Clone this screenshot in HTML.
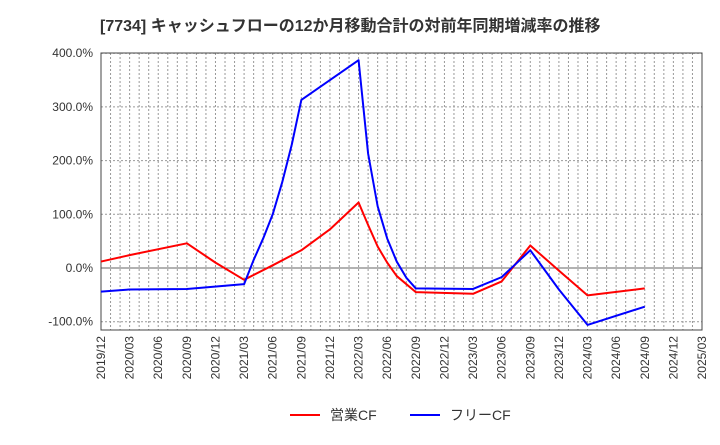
<!DOCTYPE html>
<html><head><meta charset="utf-8"><style>
body{margin:0;background:#fff;}
svg text{font-family:"Liberation Sans","Noto Sans CJK JP",sans-serif;}
</style></head><body>
<svg id="chart" width="720" height="440" xmlns="http://www.w3.org/2000/svg">
<text x="100" y="31" font-size="16" font-weight="bold" fill="#333">[7734]  キャッシュフローの12か月移動合計の対前年同期増減率の推移</text>
<g id="grid"></g><g id="axes"></g><g id="series"></g>
<g>
<line x1="290" y1="415" x2="320" y2="415" stroke="#f00" stroke-width="2"/>
<text x="330" y="420" font-size="14" fill="#333">営業CF</text>
<line x1="410" y1="415" x2="440" y2="415" stroke="#00f" stroke-width="2"/>
<text x="450" y="420" font-size="14" fill="#333">フリーCF</text>
</g>
</svg>
<script>
const xTickLabels=["2019/12","2020/03","2020/06","2020/09","2020/12","2021/03","2021/06","2021/09","2021/12","2022/03","2022/06","2022/09","2022/12","2023/03","2023/06","2023/09","2023/12","2024/03","2024/06","2024/09","2024/12","2025/03"];
const yTicks=[-100,0,100,200,300,400];
const yTickLabels=["-100.0%","0.0%","100.0%","200.0%","300.0%","400.0%"];
const opMonths=[0,3,9,12,15,18,21,24,27,28,29,30,31,33,39,42,45,48,51,57];
const opValues=[12,24,46,10,-22,5,33,72,122,80,40,10,-15,-45,-48,-25,42,-5,-51,-38];
const fcfMonths=[0,3,9,15,16,17,18,19,20,21,24,27,28,29,30,31,32,33,39,42,45,48,51,57];
const fcfValues=[-44,-40,-39,-30,15,55,100,160,230,313,350,387,213,115,55,12,-18,-38,-39,-17,33,-40,-106,-72];
const L=101,R=702,T=53,B=330,NM=63;
const xS=m=>L+(R-L)*m/NM;
const yS=v=>268-v*0.537;
const NS="http://www.w3.org/2000/svg";
function mk(tag,attrs,parent){const e=document.createElementNS(NS,tag);for(const k in attrs)e.setAttribute(k,attrs[k]);document.getElementById(parent).appendChild(e);return e;}
for(let m=1;m<NM;m++){
 const l=mk("line",{x1:xS(m),x2:xS(m),y1:T,y2:B,stroke:"#999","stroke-width":1,"stroke-dasharray":"2,2"},"grid");
 
 
}
yTicks.forEach((v,i)=>{
 const l=mk("line",{x1:L,x2:R,y1:yS(v),y2:yS(v),stroke:v===0?"#666":"#999","stroke-width":1,"stroke-dasharray":v===0?"":"2,2"},"grid");
 
 
 const t=mk("text",{x:L-8,y:yS(v)+4,"text-anchor":"end","font-size":"12",fill:"#333"},"axes");
 t.textContent=yTickLabels[i];
 
 
});
xTickLabels.forEach((s,i)=>{
 const x=xS(i*3);
 const t=mk("text",{x:x+4,y:B+6,"text-anchor":"end","font-size":"12",fill:"#333",transform:`rotate(-90 ${x+4} ${B+6})`},"axes");
 t.textContent=s;
 
 
});
const box=mk("rect",{x:L,y:T,width:R-L,height:B-T,fill:"none",stroke:"#444","stroke-width":1},"axes");


function line(ms,vs,color,name){
 const p=mk("polyline",{points:ms.map((m,i)=>xS(m)+","+yS(vs[i])).join(" "),fill:"none",stroke:color,"stroke-width":2,"stroke-linejoin":"round"},"series");
 
 
}
line(opMonths,opValues,"#f00","operating-cf-line");
line(fcfMonths,fcfValues,"#00f","free-cf-line");
</script>
</body></html>
